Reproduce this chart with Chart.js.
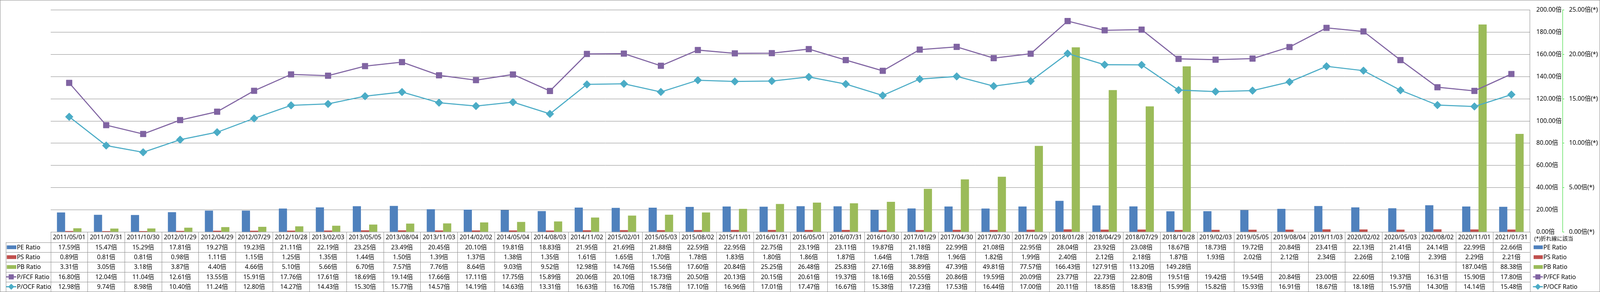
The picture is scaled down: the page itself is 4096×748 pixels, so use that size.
<!DOCTYPE html>
<html lang="ja">
<head>
<meta charset="utf-8">
<title>Valuation ratios</title>
<script src="https://cdn.jsdelivr.net/npm/chart.js@4.4.1/dist/chart.umd.min.js"></script>
<style>
    html, body { margin: 0; padding: 0; background: #fff; }
    canvas { display: block; }
</style>
</head>
<body>
<canvas id="chartContainer" width="4096" height="748"></canvas>
<script>
// Everything was measured on the 4701x858 original, so scale it down
const S = 4096 / 4701;
const FONT = '"Noto Sans", "Noto Sans CJK JP", sans-serif';

const dates = [
    '2011/05/01', '2011/07/31', '2011/10/30', '2012/01/29', '2012/04/29', '2012/07/29', '2012/10/28', '2013/02/03',
    '2013/05/05', '2013/08/04', '2013/11/03', '2014/02/02', '2014/05/04', '2014/08/03', '2014/11/02', '2015/02/01',
    '2015/05/03', '2015/08/02', '2015/11/01', '2016/01/31', '2016/05/01', '2016/07/31', '2016/10/30', '2017/01/29',
    '2017/04/30', '2017/07/30', '2017/10/29', '2018/01/28', '2018/04/29', '2018/07/29', '2018/10/28', '2019/02/03',
    '2019/05/05', '2019/08/04', '2019/11/03', '2020/02/02', '2020/05/03', '2020/08/02', '2020/11/01', '2021/01/31'
];

const peRatio = [
    17.59, 15.47, 15.29, 17.81, 19.27, 19.23, 21.11, 22.19, 23.25, 23.49, 20.45, 20.10, 19.81, 18.83, 21.95, 21.69,
    21.88, 22.59, 22.95, 22.75, 23.19, 23.11, 19.87, 21.18, 22.99, 21.08, 22.95, 28.04, 23.92, 23.08, 18.67, 18.73,
    19.72, 20.84, 23.41, 22.13, 21.41, 24.14, 22.99, 22.66
];

const psRatio = [
    0.89, 0.81, 0.81, 0.98, 1.11, 1.15, 1.25, 1.35, 1.44, 1.50, 1.39, 1.37, 1.38, 1.35, 1.61, 1.65,
    1.70, 1.78, 1.83, 1.80, 1.86, 1.87, 1.64, 1.78, 1.96, 1.82, 1.99, 2.40, 2.12, 2.18, 1.87, 1.93,
    2.02, 2.12, 2.34, 2.26, 2.10, 2.39, 2.29, 2.21
];

const pbRatio = [
    3.31, 3.05, 3.18, 3.87, 4.40, 4.66, 5.10, 5.66, 6.70, 7.57, 7.76, 8.64, 9.03, 9.52, 12.98, 14.76,
    15.56, 17.60, 20.84, 25.25, 26.48, 25.83, 27.16, 38.89, 47.39, 49.81, 77.57, 166.43, 127.91, 113.20, 149.28, null,
    null, null, null, null, null, null, 187.04, 88.38
];

const pfcfRatio = [
    16.80, 12.04, 11.04, 12.61, 13.55, 15.91, 17.76, 17.61, 18.69, 19.14, 17.66, 17.11, 17.75, 15.89, 20.06, 20.10,
    18.73, 20.50, 20.13, 20.15, 20.61, 19.37, 18.16, 20.55, 20.86, 19.59, 20.09, 23.77, 22.73, 22.80, 19.51, 19.42,
    19.54, 20.84, 23.00, 22.60, 19.37, 16.31, 15.90, 17.80
];

const pocfRatio = [
    12.98, 9.74, 8.98, 10.40, 11.24, 12.80, 14.27, 14.43, 15.30, 15.77, 14.57, 14.19, 14.63, 13.31, 16.63, 16.70,
    15.78, 17.10, 16.96, 17.01, 17.47, 16.67, 15.38, 17.23, 17.53, 16.44, 17.00, 20.11, 18.85, 18.83, 15.99, 15.82,
    15.93, 16.91, 18.67, 18.18, 15.97, 14.30, 14.14, 15.48
];

const seriesNames = ['PE Ratio', 'PS Ratio', 'PB Ratio', 'P/FCF Ratio', 'P/OCF Ratio'];
const barAxisMax = 200, barAxisStep = 20;     // bars, ticks "xx.00倍"
const lineAxisMax = 25, lineAxisStep = 5;     // lines, ticks "xx.00倍(*)"
const lineAxisNote = '(*)折れ線に該当';

const COLORS = ['#4F81BD', '#C0504D', '#9BBB59', '#8064A2', '#4BACC6'];
const GRID = '#868686';
const TABLE_LINE = '#8a8a8a';

function fmt(v) {
    return v == null ? '' : v.toFixed(2) + '倍';
}

const rows = [
    { name: seriesNames[0], values: peRatio, color: COLORS[0], type: 'bar' },
    { name: seriesNames[1], values: psRatio, color: COLORS[1], type: 'bar' },
    { name: seriesNames[2], values: pbRatio, color: COLORS[2], type: 'bar' },
    { name: seriesNames[3], values: pfcfRatio, color: COLORS[3], type: 'line', marker: 'rect' },
    { name: seriesNames[4], values: pocfRatio, color: COLORS[4], type: 'line', marker: 'diamond' }
];

// legend key: little bar or a line with its marker
function drawKey(ctx, row, x0, x1, cy) {
    ctx.save();
    ctx.fillStyle = row.color;
    ctx.strokeStyle = row.color;
    if (row.type === 'bar') {
        const h = 11 * S;
        ctx.fillRect(x0 + 2 * S, cy - h / 2, x1 - x0 - 2 * S, h);
    } else {
        const mid = (x0 + x1) / 2;
        ctx.lineWidth = 3.5 * S;
        ctx.beginPath();
        ctx.moveTo(x0, cy);
        ctx.lineTo(x1, cy);
        ctx.stroke();
        ctx.beginPath();
        if (row.marker === 'rect') {
            const h = 7.5 * S;
            ctx.rect(mid - h, cy - h, 2 * h, 2 * h);
        } else {
            const h = 9 * S;
            ctx.moveTo(mid - h, cy);
            ctx.lineTo(mid, cy - h);
            ctx.lineTo(mid + h, cy);
            ctx.lineTo(mid, cy + h);
            ctx.closePath();
        }
        ctx.fill();
    }
    ctx.restore();
}

function hLine(ctx, x0, x1, y) {
    const yy = Math.round(y) + 0.5;
    ctx.beginPath();
    ctx.moveTo(x0, yy);
    ctx.lineTo(x1, yy);
    ctx.stroke();
}

function vLine(ctx, x, y0, y1) {
    const xx = Math.round(x) + 0.5;
    ctx.beginPath();
    ctx.moveTo(xx, y0);
    ctx.lineTo(xx, y1);
    ctx.stroke();
}

// data table under the plot, legend on the right, frame round the whole thing
const tablePlugin = {
    id: 'dataTable',
    afterDraw(chart) {
        const ctx = chart.ctx;
        const area = chart.chartArea;
        const xScale = chart.scales.x;
        const n = dates.length;
        const catH = 30.5 * S;
        const rowH = 29 * S;
        const tableLeft = 17 * S;
        const top = area.bottom;
        const rowTop = top + catH;
        const tableBottom = rowTop + rows.length * rowH;

        const edges = [];
        for (let i = 0; i <= n; i++) {
            if (i === 0) edges.push(area.left);
            else if (i === n) edges.push(area.right);
            else edges.push((xScale.getPixelForValue(i - 1) + xScale.getPixelForValue(i)) / 2);
        }

        ctx.save();
        ctx.strokeStyle = TABLE_LINE;
        ctx.lineWidth = 1;
        hLine(ctx, area.left, area.right, top);
        for (let r = 0; r <= rows.length; r++) {
            hLine(ctx, tableLeft, area.right, rowTop + r * rowH);
        }
        edges.forEach(e => vLine(ctx, e, top, tableBottom));
        vLine(ctx, tableLeft, rowTop, tableBottom);

        ctx.fillStyle = '#000';
        ctx.textAlign = 'center';
        ctx.textBaseline = 'middle';
        ctx.font = (18 * S) + 'px ' + FONT;
        for (let i = 0; i < n; i++) {
            const cx = xScale.getPixelForValue(i);
            ctx.fillText(dates[i], cx, top + catH / 2 + 1 * S);
            rows.forEach((row, r) => {
                ctx.fillText(fmt(row.values[i]), cx, rowTop + r * rowH + rowH / 2 + 1 * S);
            });
        }

        // legend keys in the first column of the table
        ctx.textAlign = 'left';
        rows.forEach((row, r) => {
            const cy = rowTop + r * rowH + rowH / 2;
            drawKey(ctx, row, 18 * S, 48 * S, cy);
            ctx.fillStyle = '#000';
            ctx.fillText(row.name, 49.5 * S, cy + 1 * S);
        });

        // legend on the right
        rows.forEach((row, r) => {
            const cy = rowTop + r * rowH + rowH / 2;
            drawKey(ctx, row, 4504 * S, 4533 * S, cy);
            ctx.fillStyle = '#000';
            ctx.fillText(row.name, 4534.5 * S, cy + 1 * S);
        });

        ctx.font = (16 * S) + 'px ' + FONT;
        ctx.fillText(lineAxisNote, 4508 * S, top + 21 * S);

        // outer frame
        ctx.strokeStyle = '#878787';
        ctx.strokeRect(0.5, 0.5, chart.width - 1, chart.height - 1);
        ctx.restore();
    }
};

document.addEventListener('DOMContentLoaded', function () {
    const ctx = document.getElementById('chartContainer').getContext('2d');
    const barOpts = { type: 'bar', yAxisID: 'y', order: 2, categoryPercentage: 0.663, barPercentage: 1.0, borderWidth: 0 };
    const lineOpts = {
        type: 'line', yAxisID: 'y1', order: 1, tension: 0, borderWidth: 3.2 * S,
        pointBorderWidth: 1, pointHoverRadius: 0, fill: false
    };

    new Chart(ctx, {
        data: {
            labels: dates,
            datasets: [
                Object.assign({ label: seriesNames[0], data: peRatio, backgroundColor: COLORS[0] }, barOpts),
                Object.assign({ label: seriesNames[1], data: psRatio, backgroundColor: COLORS[1] }, barOpts),
                Object.assign({ label: seriesNames[2], data: pbRatio, backgroundColor: COLORS[2] }, barOpts),
                Object.assign({
                    label: seriesNames[3], data: pfcfRatio, borderColor: COLORS[3], backgroundColor: COLORS[3],
                    pointStyle: 'rect', pointRadius: 12 * S
                }, lineOpts),
                Object.assign({
                    label: seriesNames[4], data: pocfRatio, borderColor: COLORS[4], backgroundColor: COLORS[4],
                    pointStyle: 'rectRot', pointRadius: 11.5 * S
                }, lineOpts)
            ]
        },
        options: {
            responsive: false,
            devicePixelRatio: 1,
            animation: false,
            events: [],
            layout: {
                padding: { left: 149 * S, top: 14 * S, right: 0, bottom: (858 - 681.5) * S }
            },
            scales: {
                x: {
                    type: 'category',
                    display: false,
                    offset: true,
                    grid: { display: false }
                },
                y: {
                    type: 'linear',
                    position: 'right',
                    min: 0,
                    max: barAxisMax,
                    ticks: {
                        stepSize: barAxisStep,
                        padding: 19 * S,
                        color: '#000',
                        font: { family: FONT, size: 18 * S },
                        callback: v => v.toFixed(2) + '倍'
                    },
                    grid: { color: GRID, lineWidth: 1, drawTicks: false },
                    border: { display: true, color: GRID, width: 1 },
                    afterFit: s => { s.width = 96 * S; }
                },
                y1: {
                    type: 'linear',
                    position: 'right',
                    min: 0,
                    max: lineAxisMax,
                    ticks: {
                        stepSize: lineAxisStep,
                        padding: 14 * S,
                        color: '#000',
                        font: { family: FONT, size: 18 * S },
                        callback: v => v.toFixed(2) + '倍(*)'
                    },
                    grid: { drawOnChartArea: false, drawTicks: true, tickLength: 5 * S, color: '#19d219', lineWidth: 1 },
                    border: { display: true, color: '#19d219', width: 1, dash: [4 * S, 3 * S] },
                    afterFit: s => { s.width = (4701 - 4591) * S; }
                }
            },
            plugins: {
                legend: { display: false },
                tooltip: { enabled: false }
            }
        },
        plugins: [tablePlugin]
    });
});
</script>
</body>
</html>
